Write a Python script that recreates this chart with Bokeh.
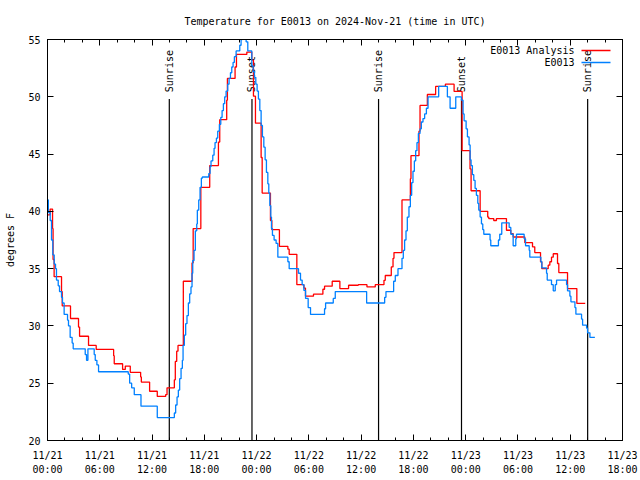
import math
from bokeh.plotting import figure
from bokeh.models import (Range1d, FixedTicker, LinearAxis, Label, Arrow, ColumnDataSource)
from bokeh.core.properties import value
from bokeh.embed import file_html
from bokeh.resources import INLINE

FONT = "DejaVu Sans Mono"

title_text = "Temperature for E0013 on 2024-Nov-21 (time in UTC)"
y_label = "degrees F"

# hours since 2024-11-21 00:00 UTC
x_ticks = [0, 6, 12, 18, 24, 30, 36, 42, 48, 54, 60, 66]
x_tick_labels = ["11/21\n00:00", "11/21\n06:00", "11/21\n12:00", "11/21\n18:00",
                 "11/22\n00:00", "11/22\n06:00", "11/22\n12:00", "11/22\n18:00",
                 "11/23\n00:00", "11/23\n06:00", "11/23\n12:00", "11/23\n18:00"]
x_minor_ticks = list(range(0, 67, 2))
y_ticks = [20, 25, 30, 35, 40, 45, 50, 55]

# E0013 Analysis (red)
ana_hours = [0.0, 0.30, 0.58, 0.64, 0.76, 1.61, 1.69, 2.64, 3.56, 3.68, 4.71, 5.59,
             7.59, 7.66, 8.62, 8.93, 9.50, 10.69, 10.77, 11.72, 12.60, 13.56, 13.72,
             14.56, 14.67, 14.83, 14.98, 15.59, 16.59, 16.72, 17.60, 18.62, 19.62,
             19.77, 20.57, 20.65, 21.53, 21.69, 22.88, 23.45, 23.64, 23.87, 24.52,
             24.64, 25.59, 25.75, 26.62, 27.59, 27.74, 28.62, 29.43, 29.61, 30.53,
             31.61, 31.80, 32.68, 33.56, 34.56, 35.67, 36.67, 37.62, 38.62, 38.77,
             39.46, 39.66, 39.77, 40.69, 41.65, 41.72, 42.64, 42.76, 43.60, 44.55,
             45.67, 46.67, 47.59, 48.50, 48.62, 49.66, 50.53, 50.65, 51.22, 51.53,
             52.68, 53.18, 53.45, 54.79, 55.67, 55.93, 56.59, 56.74, 57.47, 57.66,
             57.85, 58.05, 58.54, 58.69, 59.69, 60.76, 61.72]
ana_temp = [39.7, 40.2, 38.5, 35.8, 34.3, 33.0, 31.75, 30.65, 29.9, 29.1, 28.3, 27.95,
            27.4, 26.7, 26.2, 26.5, 25.95, 25.55, 25.1, 24.3, 23.85, 24.0, 24.6,
            25.3, 26.9, 27.8, 28.3, 33.9, 35.5, 38.5, 42.1, 44.0, 46.05,
            48.0, 49.7, 51.6, 52.6, 53.7, 53.9, 53.2, 50.05, 47.7, 44.7,
            41.6, 39.2, 38.4, 36.95, 36.7, 36.25, 33.6, 33.3, 32.6, 32.77,
            33.2, 33.47, 33.9, 33.26, 33.55, 33.6, 33.4, 33.6, 33.98, 34.4,
            35.15, 35.9, 36.4, 41.0, 42.85, 44.86, 47.0, 49.25, 50.2, 50.9,
            51.1, 50.47, 45.3, 43.7, 41.8, 40.0, 39.5, 39.37, 39.2, 39.37,
            38.35, 38.06, 37.76, 37.27, 36.9, 36.4, 35.6, 35.0, 35.3, 35.6,
            36.0, 36.3, 35.45, 34.66, 33.26, 31.96, 31.96]

# E0013 observations (blue)
obs_hours = [0.00, 0.10, 0.31, 0.46, 0.61, 0.77, 0.92, 1.03, 1.23, 1.38, 1.61, 1.72,
             1.91, 2.30, 2.41, 2.60, 2.83, 2.95, 4.33, 4.48, 4.64, 5.36, 5.48, 5.67,
             5.86, 9.27, 9.43, 9.66, 9.96, 10.73, 12.60, 14.56, 14.71, 14.87, 15.02,
             15.17, 15.33, 15.48, 15.56, 15.71, 15.86, 16.01, 16.17, 16.32, 16.47,
             16.59, 16.67, 16.82, 16.97, 17.13, 17.20, 17.36, 17.51, 17.66, 17.78,
             18.51, 18.66, 18.77, 18.97, 19.12, 19.23, 19.39, 19.54, 19.73, 19.89,
             20.04, 20.19, 20.34, 20.50, 20.69, 20.84, 21.00, 21.15, 21.30, 21.45,
             21.65, 22.07, 22.22, 22.34, 22.80, 22.99, 23.45, 23.60, 23.75, 23.91,
             24.06, 24.21, 24.37, 24.52, 24.67, 24.83, 24.98, 25.13, 25.29, 25.40,
             25.52, 25.63, 25.71, 25.82, 26.01, 26.24, 26.44, 27.59, 27.74, 28.81,
             29.04, 29.23, 29.43, 29.62, 29.92, 30.19, 31.80, 31.92, 32.80, 33.03,
             36.63, 38.70, 38.85, 39.73, 39.92, 40.23, 40.69, 40.84, 40.99, 41.15,
             41.30, 41.49, 41.65, 41.80, 41.95, 42.11, 42.26, 42.41, 42.57, 42.76,
             42.91, 43.10, 43.29, 43.49, 43.68, 44.90, 45.90, 46.21, 46.86, 47.51,
             47.70, 47.82, 48.05, 48.20, 48.39, 48.51, 48.62, 48.77, 48.93, 49.08,
             49.23, 49.39, 49.50, 49.66, 49.81, 49.96, 50.08, 50.80, 50.88, 51.76,
             51.91, 52.14, 52.99, 53.18, 53.45, 53.75, 53.83, 54.71, 54.87, 55.29,
             55.36, 56.63, 56.74, 57.28, 57.36, 57.85, 58.05, 58.28, 58.43, 59.58,
             59.69, 59.96, 60.08, 60.54, 60.65, 61.30, 61.42, 61.88, 61.99, 62.26,
             62.83]
obs_temp = [41.0, 39.9, 39.2, 37.5, 36.2, 35.4, 35.0, 34.0, 33.5, 33.0, 32.5, 32.0,
            31.0, 30.5, 30.0, 29.0, 28.5, 28.0, 27.5, 27.0, 28.0, 27.5, 27.0, 26.6,
            26.0, 25.8, 25.0, 24.6, 24.0, 23.0, 22.0, 22.4, 23.1, 23.8, 24.4,
            25.4, 26.3, 27.0, 28.3, 29.2, 30.2, 30.9, 32.0, 32.8, 33.4,
            34.6, 35.7, 36.6, 38.3, 38.9, 40.1, 41.0, 42.1, 42.9, 43.0,
            43.3, 43.9, 44.4, 44.9, 45.5, 46.0, 46.4, 47.0, 47.6, 48.2,
            48.8, 49.4, 50.0, 50.5, 51.1, 51.6, 52.1, 52.6, 53.0, 53.5,
            54.0, 54.5, 55.0, 55.6, 54.8, 54.0, 52.7, 52.2, 51.7, 51.1,
            50.5, 49.8, 48.8, 47.5, 46.5, 45.6, 44.5, 43.4, 42.4, 41.6,
            40.5, 39.5, 38.5, 37.9, 37.5, 37.2, 36.0, 35.6, 35.0, 34.6,
            34.0, 33.6, 33.1, 32.4, 31.6, 31.0, 31.5, 32.0, 32.4, 33.0,
            32.0, 32.5, 33.0, 33.9, 34.4, 35.0, 35.9, 36.6, 37.5, 38.3,
            39.5, 40.4, 41.4, 42.5, 43.5, 44.4, 45.3, 46.0, 46.8, 47.2,
            47.8, 48.1, 48.5, 49.0, 50.0, 50.9, 50.0, 49.0, 50.0, 49.7,
            48.5, 47.9, 47.2, 46.5, 45.8, 44.5, 44.0, 43.2, 42.7, 42.0,
            41.4, 40.7, 40.1, 39.5, 38.9, 38.4, 38.0, 37.5, 37.0, 37.5,
            38.0, 39.0, 38.6, 38.0, 37.0, 37.6, 38.0, 37.6, 37.0, 36.6,
            36.0, 35.6, 35.06, 34.6, 34.0, 33.6, 33.06, 33.6, 34.0, 33.6,
            33.06, 32.6, 32.1, 31.6, 31.03, 30.6, 30.07, 29.8, 29.4, 29.0,
            29.0]

sun_hours = [13.98, 23.47, 38.0, 47.52, 62.0]
sun_labels = ["Sunrise", "Sunset", "Sunrise", "Sunset", "Sunrise"]
sun_line_top = 49.8
sun_label_y = 50.4
y_min, y_max = 20, 55

series_names = ["E0013 Analysis", "E0013"]
series_colors = ["#ff0000", "#0080ff"]

p = figure(width=640, height=480, output_backend="svg", toolbar_location=None,
           x_range=Range1d(0, 66), y_range=Range1d(y_min, y_max),
           min_border_left=47, min_border_right=18, min_border_top=39,
           min_border_bottom=40)
p.background_fill_color = "white"
p.border_fill_color = "white"
p.outline_line_color = "black"
p.outline_line_width = 1
p.xgrid.visible = False
p.ygrid.visible = False

p.title.text = title_text
p.title.align = "center"
p.title.text_font = FONT
p.title.text_font_size = "10px"
p.title.text_font_style = "normal"
p.title.text_color = "black"
p.title.standoff = 26

xax = p.xaxis[0]
xax.ticker = FixedTicker(ticks=x_ticks, minor_ticks=x_minor_ticks)
xax.major_label_overrides = {t: l for t, l in zip(x_ticks, x_tick_labels)}
xax.major_label_text_font = FONT
xax.major_label_text_font_size = "10px"
xax.major_label_text_color = "black"
xax.major_label_text_line_height = 1.3
xax.major_label_standoff = 9
xax.major_tick_in = 6
xax.major_tick_out = 0
xax.minor_tick_in = 3
xax.minor_tick_out = 0
xax.axis_line_color = "black"
xax.major_tick_line_color = "black"
xax.minor_tick_line_color = "black"

yax = p.yaxis[0]
yax.ticker = FixedTicker(ticks=y_ticks)
yax.major_label_text_font = FONT
yax.major_label_text_font_size = "10px"
yax.major_label_text_color = "black"
yax.major_label_standoff = 7
yax.major_tick_in = 6
yax.major_tick_out = 0
yax.minor_tick_in = 0
yax.minor_tick_out = 0
yax.major_tick_line_color = "black"
yax.axis_label = y_label
yax.axis_label_text_font = FONT
yax.axis_label_text_font_size = "10px"
yax.axis_label_text_font_style = "normal"
yax.axis_label_text_color = "black"
yax.axis_label_standoff = 9

top = LinearAxis(ticker=FixedTicker(ticks=x_ticks, minor_ticks=x_minor_ticks),
                 major_label_overrides={t: "" for t in x_ticks},
                 major_label_standoff=0,
                 major_tick_in=6, major_tick_out=0, minor_tick_in=3, minor_tick_out=0)
p.add_layout(top, "above")
right = LinearAxis(ticker=FixedTicker(ticks=y_ticks),
                   major_label_overrides={t: "" for t in y_ticks},
                   major_label_standoff=0,
                   major_tick_in=6, major_tick_out=0, minor_tick_in=0, minor_tick_out=0)
p.add_layout(right, "right")

# sunrise / sunset markers
sun_src = ColumnDataSource(dict(x=sun_hours, y0=[y_min] * len(sun_hours),
                                y1=[sun_line_top] * len(sun_hours),
                                ly=[sun_label_y] * len(sun_hours), txt=sun_labels))
p.segment(x0="x", y0="y0", x1="x", y1="y1", source=sun_src, line_color="black", line_width=1.2)
p.text(x="x", y="ly", text="txt", source=sun_src, angle=math.pi / 2,
       text_align="left", text_baseline="middle", text_font=value(FONT),
       text_font_size="10px", text_color="black")

p.step(ana_hours, ana_temp, mode="after", line_color=series_colors[0], line_width=1.3)
p.step(obs_hours, obs_temp, mode="after", line_color=series_colors[1], line_width=1.3)

# legend (gnuplot style: text right-aligned, sample to the right)
for i, (name, col) in enumerate(zip(series_names, series_colors)):
    ys = 390 - 12 * i
    p.add_layout(Label(x=527, y=ys, x_units="screen", y_units="screen", text=name,
                       text_align="right", text_baseline="middle",
                       text_font=FONT, text_font_size="10px", text_color="black"))
    p.add_layout(Arrow(x_start=534, y_start=ys, x_end=563, y_end=ys,
                       start_units="screen", end_units="screen", end=None,
                       line_color=col, line_width=1.3))

open("out.html", "w").write(file_html(p, INLINE))
